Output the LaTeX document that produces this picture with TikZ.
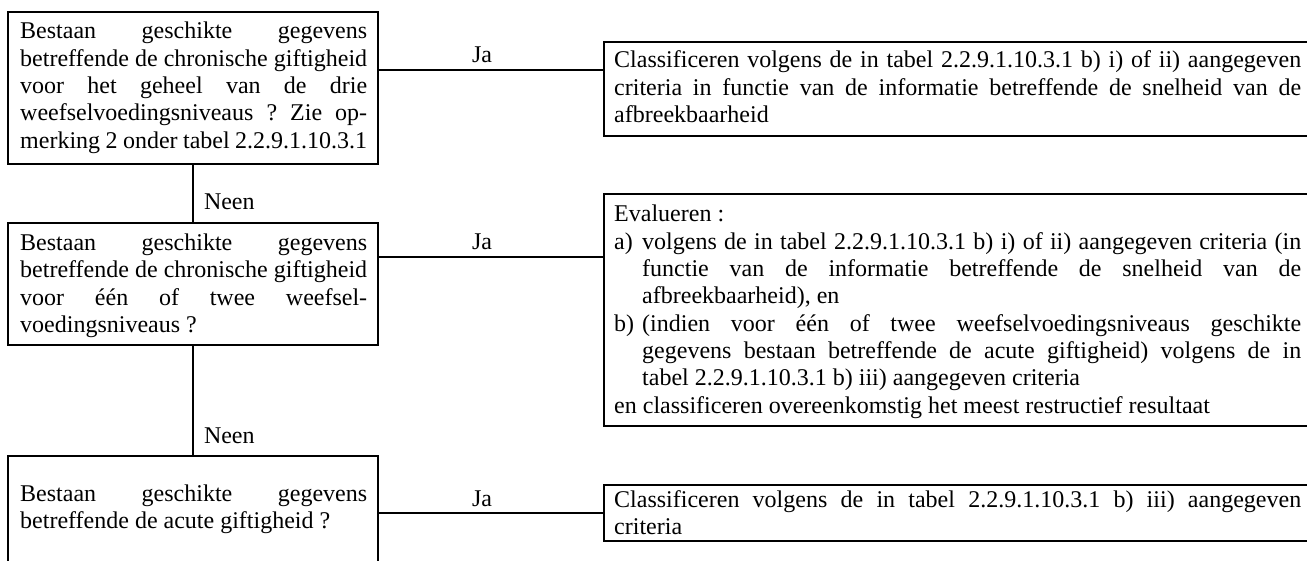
\documentclass[tikz,border=0pt]{standalone}
\usepackage{fontspec}
\setmainfont{Liberation Serif}
\newcommand{\JL}[2]{\makebox[#1][s]{#2}}
\begin{document}
\begin{tikzpicture}[x=1pt,y=-1pt,
  every node/.style={font=\fontsize{24}{27.3}\selectfont},
  box/.style={draw=black,line width=2pt,inner sep=0pt,minimum width=#1},
  lbox/.style={box=370pt},
  rbox/.style={box=711pt},
  txt/.style={anchor=base west,inner sep=0pt},
  conn/.style={draw=black,line width=2pt},
  lbl/.style={inner sep=0pt}]
\useasboundingbox (0,0) rectangle (1307,561);
\clip (0,0) rectangle (1307,561);
\frenchspacing
% left boxes
\node[lbox,minimum height=152pt] (b1) at (193,88.5) {};
\node[lbox,minimum height=122pt] (b2) at (193,284) {};
\node[lbox,minimum height=124pt] (b3) at (193,518) {};
% right boxes
\node[rbox,minimum height=94pt] (r1) at (959.5,89) {};
\node[rbox,minimum height=232pt] (r2) at (959.5,310) {};
\node[rbox,minimum height=56pt] (r3) at (959.5,513) {};
% left texts
\node[txt] (t1) at (20,39) {\parbox[t]{347pt}{%
\JL{347pt}{Bestaan geschikte gegevens}\\
\JL{347pt}{betreffende de chronische giftigheid}\\
\JL{347pt}{voor het geheel van de drie}\\
\JL{347pt}{weefselvoedingsniveaus ? Zie op-}\\
merking 2 onder tabel 2.2.9.1.10.3.1}};
\node[txt] (t2) at (20,250.5) {\parbox[t]{347pt}{%
\JL{347pt}{Bestaan geschikte gegevens}\\
\JL{347pt}{betreffende de chronische giftigheid}\\
\JL{347pt}{voor één of twee weefsel-}\\
voedingsniveaus ?}};
\node[txt] (t3) at (20,501) {\parbox[t]{347pt}{%
\JL{347pt}{Bestaan geschikte gegevens}\\
betreffende de acute giftigheid ?}};
% right texts
\node[txt] (u1) at (614,68) {\parbox[t]{687pt}{%
\JL{687pt}{Classificeren volgens de in tabel 2.2.9.1.10.3.1 b) i) of ii) aangegeven}\\
\JL{687pt}{criteria in functie van de informatie betreffende de snelheid van de}\\
afbreekbaarheid}};
\node[txt] (u2) at (614,222) {\parbox[t]{687pt}{%
Evalueren :\\
\makebox[28pt][l]{a)}\JL{659pt}{volgens de in tabel 2.2.9.1.10.3.1 b) i) of ii) aangegeven criteria (in}\\
\hspace*{28pt}\JL{659pt}{functie van de informatie betreffende de snelheid van de}\\
\hspace*{28pt}afbreekbaarheid), en\\
\makebox[28pt][l]{b)}\JL{659pt}{(indien voor één of twee weefselvoedingsniveaus geschikte}\\
\hspace*{28pt}\JL{659pt}{gegevens bestaan betreffende de acute giftigheid) volgens de in}\\
\hspace*{28pt}tabel 2.2.9.1.10.3.1 b) iii) aangegeven criteria\\
en classificeren overeenkomstig het meest restructief resultaat}};
\node[txt] (u3) at (614,507) {\parbox[t]{687pt}{%
\JL{687pt}{Classificeren volgens de in tabel 2.2.9.1.10.3.1 b) iii) aangegeven}\\
criteria}};
% connectors
\coordinate (j1) at (0,70);
\coordinate (j2) at (0,257);
\coordinate (j3) at (0,513);
\draw[conn] (b1.east |- j1) -- (r1.west |- j1)
  node[lbl,pos=0.46,anchor=base,yshift=7pt] (ja1) {Ja};
\draw[conn] (b2.east |- j2) -- (r2.west |- j2)
  node[lbl,pos=0.46,anchor=base,yshift=7pt] (ja2) {Ja};
\draw[conn] (b3.east |- j3) -- (r3.west |- j3)
  node[lbl,pos=0.46,anchor=base,yshift=7pt] (ja3) {Ja};
\draw[conn] (b1.south) -- (b2.north)
  node[lbl,pos=1,anchor=base west,xshift=10pt,yshift=12pt] (n1) {Neen};
\draw[conn] (b2.south) -- (b3.north)
  node[lbl,pos=1,anchor=base west,xshift=10pt,yshift=12pt] (n2) {Neen};
\end{tikzpicture}
\end{document}
